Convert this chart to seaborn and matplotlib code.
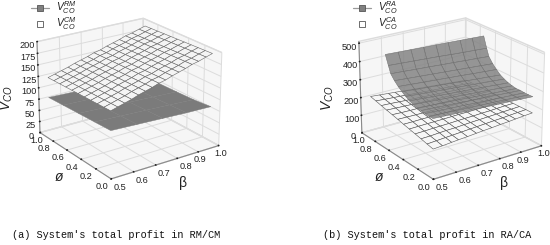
import matplotlib
matplotlib.use('Agg')
import matplotlib.pyplot as plt
from matplotlib.lines import Line2D
import numpy as np
import seaborn as sns

sns.set_theme(style='white')
plt.rcParams['font.family'] = ['Liberation Sans', 'DejaVu Sans']
plt.rcParams['mathtext.fontset'] = 'custom'
plt.rcParams['mathtext.it'] = 'Liberation Sans:italic'
plt.rcParams['mathtext.rm'] = 'Liberation Sans'

beta_ticks = [0.5, 0.6, 0.7, 0.8, 0.9, 1.0]
phi_ticks = [0.0, 0.2, 0.4, 0.6, 0.8, 1.0]

# panel a
a_beta = [0.5, 0.53, 0.56, 0.59, 0.62, 0.65, 0.68, 0.71, 0.74, 0.77, 0.8, 0.83, 0.86, 0.89, 0.925, 0.955]
a_phi = [0.0, 0.085, 0.17, 0.255, 0.34, 0.425, 0.51, 0.595, 0.68, 0.765, 0.85]
a_cm = [
    [140, 144, 148, 152, 157, 161, 165, 170, 173, 178, 182, 186, 191, 194, 199, 203],
    [139.5, 143.5, 147.5, 151.5, 156.5, 160.5, 164.5, 169.5, 172.5, 177.5, 181.5, 185.5, 190.5, 193.5, 198.5, 202.5],
    [139, 143, 147, 151, 156, 160, 164, 169, 172, 177, 181, 185, 190, 193, 198, 202],
    [138.5, 142.5, 146.5, 150.5, 155.5, 159.5, 163.5, 168.5, 171.5, 176.5, 180.5, 184.5, 189.5, 192.5, 197.5, 201.5],
    [138, 142, 146, 150, 155, 159, 163, 168, 171, 176, 180, 184, 189, 192, 197, 201],
    [137.5, 141.5, 145.5, 149.5, 154.5, 158.5, 162.5, 167.5, 170.5, 175.5, 179.5, 183.5, 188.5, 191.5, 196.5, 200.5],
    [137, 141, 145, 149, 154, 158, 162, 167, 170, 175, 179, 183, 188, 191, 196, 200],
    [136.5, 140.5, 144.5, 148.5, 153.5, 157.5, 161.5, 166.5, 169.5, 174.5, 178.5, 182.5, 187.5, 190.5, 195.5, 199.5],
    [136, 140, 144, 148, 153, 157, 161, 166, 169, 174, 178, 182, 187, 190, 195, 199],
    [135.5, 139.5, 143.5, 147.5, 152.5, 156.5, 160.5, 165.5, 168.5, 173.5, 177.5, 181.5, 186.5, 189.5, 194.5, 198.5],
    [135, 139, 143, 147, 152, 156, 160, 165, 168, 173, 177, 181, 186, 189, 194, 198],
]
a_rm_beta = [0.5, 0.615, 0.73, 0.84, 0.955]
a_rm_phi = [0.0, 0.21, 0.425, 0.64, 0.85]
a_rm = [
    [100, 97.5, 95, 92.5, 91],
    [98, 95.5, 93, 90.5, 87.5],
    [96, 93.5, 91, 88.5, 86],
    [94, 92, 89, 87, 85],
    [92, 90, 87, 85, 83],
]

# panel b
b_beta = [0.5, 0.54, 0.58, 0.61, 0.65, 0.69, 0.72, 0.76, 0.8, 0.84, 0.87, 0.91, 0.95]
b_phi = [0.0, 0.077, 0.155, 0.232, 0.309, 0.386, 0.464, 0.541, 0.618, 0.695, 0.773, 0.85]
b_ca = [
    [160, 163, 167, 170, 173, 177, 180, 183, 187, 190, 193, 197, 200],
    [167, 170, 173, 175, 178, 181, 183, 186, 189, 191, 194, 197, 200],
    [175, 176, 179, 181, 182, 185, 187, 189, 191, 193, 195, 197, 199],
    [182, 183, 185, 186, 187, 189, 190, 191, 193, 194, 196, 198, 199],
    [189, 190, 191, 191, 192, 193, 194, 194, 195, 196, 197, 198, 198],
    [196, 196, 197, 197, 197, 197, 197, 197, 197, 197, 198, 198, 198],
    [204, 203, 202, 202, 201, 201, 201, 200, 200, 199, 198, 198, 197],
    [211, 209, 208, 208, 206, 205, 204, 203, 202, 200, 199, 198, 197],
    [218, 216, 214, 213, 211, 209, 208, 206, 204, 202, 200, 198, 196],
    [225, 223, 220, 218, 216, 213, 211, 208, 206, 203, 201, 199, 196],
    [233, 229, 226, 224, 220, 217, 215, 211, 208, 205, 202, 199, 195],
    [240, 236, 232, 229, 225, 221, 218, 214, 210, 206, 203, 199, 195],
]
b_ra_beta = [0.5, 0.556, 0.612, 0.669, 0.725, 0.781, 0.837, 0.894, 0.95]
b_ra_phi = [0.0, 0.05, 0.1, 0.15, 0.2, 0.25, 0.3, 0.35, 0.4, 0.45, 0.5, 0.55, 0.58, 0.62]
b_ra = [
    [318, 314, 310, 307, 303, 299, 296, 292, 288],
    [318, 314, 310, 306, 302, 299, 295, 291, 287],
    [320, 316, 312, 308, 303, 299, 295, 291, 287],
    [324, 320, 315, 311, 306, 302, 298, 293, 289],
    [326, 321, 316, 312, 307, 302, 297, 293, 288],
    [332, 327, 322, 317, 312, 307, 302, 297, 292],
    [340, 335, 329, 324, 319, 314, 309, 303, 298],
    [352, 346, 341, 335, 330, 325, 319, 314, 308],
    [366, 360, 354, 349, 343, 337, 331, 326, 320],
    [382, 377, 371, 366, 361, 356, 350, 345, 340],
    [402, 397, 392, 387, 382, 377, 372, 367, 362],
    [428, 424, 419, 415, 410, 406, 401, 397, 392],
    [465, 461, 457, 453, 449, 444, 440, 436, 432],
    [515, 512, 509, 506, 504, 501, 498, 495, 492],
]

x_tick_align = ['left', 'left', 'left', 'left', 'center', 'center']
y_tick_align = ['right', 'right', 'right', 'right', 'right', 'center']

GRID = '#dcdcdc'
PANE = (0.965, 0.965, 0.965, 1.0)
TXT = '#222222'


def surf(ax, betas, phis, vals, z, face, edge, lw=0.4, alpha=1.0):
    bb, pp = np.meshgrid(betas, phis)
    return ax.plot_surface(bb, pp, np.array(vals, dtype=float), rstride=1, cstride=1,
                           color=face, edgecolor=edge, linewidth=lw, shade=False,
                           alpha=alpha, zorder=z)


def setup(rect, zticks, zmax):
    ax = fig.add_axes(rect, projection='3d', computed_zorder=False)
    ax.set_proj_type('persp', focal_length=1.0)
    ax.view_init(elev=22, azim=-125)
    ax.set_box_aspect((1, 1, 0.76), zoom=1.0)
    ax.set_xlim(0.5, 1.0)
    ax.set_ylim(0.0, 1.0)
    ax.set_zlim(0, zmax)
    ax.set_xticks(beta_ticks)
    ax.set_yticks(phi_ticks)
    ax.set_zticks(zticks)
    ax.set_xticklabels([f'{v:.1f}' for v in beta_ticks])
    ax.set_yticklabels([f'{v:.1f}' for v in phi_ticks])
    ax.set_zticklabels([str(v) for v in zticks])
    for t, ha in zip(ax.get_xticklabels(), x_tick_align):
        t.set_ha(ha)
    for t, ha in zip(ax.get_yticklabels(), y_tick_align):
        t.set_ha(ha)
    ax.tick_params(labelsize=6.6, colors=TXT)
    ax.tick_params(axis='x', pad=-6)
    ax.tick_params(axis='y', pad=-6)
    ax.tick_params(axis='z', pad=-4)
    for axis in (ax.xaxis, ax.yaxis, ax.zaxis):
        axis.set_pane_color(PANE)
        axis.pane.set_edgecolor(GRID)
        axis._axinfo['grid'].update(color=GRID, linewidth=0.7)
        axis._axinfo['tick'].update(inward_factor=0.0, outward_factor=0.04)
        axis.line.set_color('#8a8a8a')
        axis.line.set_linewidth(0.8)
    ax.patch.set_alpha(0)
    return ax


fig = plt.figure(figsize=(5.5, 2.45), dpi=100)

ax1 = setup([0.002, 0.191, 0.452, 0.83], [0, 25, 50, 75, 100, 125, 150, 175, 200], 200)
surf(ax1, a_rm_beta, a_rm_phi, a_rm, 1, '#7b7b7b', '#7b7b7b', lw=0.3)
surf(ax1, a_beta, a_phi, a_cm, 2, '#f4f4f4', '#666666')

ax2 = setup([0.5825, 0.189, 0.463, 0.834], [0, 100, 200, 300, 400, 500], 510)
surf(ax2, b_beta, b_phi, b_ca, 1, '#f7f7f7', '#555555')
surf(ax2, b_ra_beta, b_ra_phi, b_ra, 2, '#858585', '#6e6e6e', lw=0.35, alpha=0.86)


def key(x, y, label, with_line):
    # x, y in pixels of the 550x245 picture
    fx, fy = x / 550, 1 - y / 245
    if with_line:
        fig.add_artist(Line2D([(x - 9) / 550, (x + 9) / 550], [fy, fy], transform=fig.transFigure,
                              color='#9a9a9a', lw=0.9))
    fig.add_artist(Line2D([fx], [fy], transform=fig.transFigure, marker='s', ms=4.2,
                          mfc='#808080' if with_line else '#ffffff', mec='#555555', mew=0.6, ls='none'))
    fig.text((x + 16) / 550, fy, label, fontsize=7.5, color=TXT, va='center', ha='left')


key(40, 8, r'$V_{CO}^{RM}$', True)
key(40, 24, r'$V_{CO}^{CM}$', False)
key(362, 8, r'$V_{CO}^{RA}$', True)
key(362, 24, r'$V_{CO}^{CA}$', False)

for x, cap in [(12, "(a) System's total profit in RM/CM"), (323, "(b) System's total profit in RA/CA")]:
    fig.text(x / 550, 1 - 235 / 245, cap, family='Liberation Mono', fontsize=7.4,
             color='#111111', va='center', ha='left')

for vx, px, bx in [(7, 59, 183), (328, 379, 504)]:
    fig.text(vx / 550, 1 - 98 / 245, r'$V_{CO}$', rotation=90, fontsize=10, color=TXT, ha='center', va='center')
    fig.text(px / 550, 1 - 177 / 245, 'ø', fontsize=10, style='italic', color=TXT, ha='center', va='center')
    fig.text(bx / 550, 1 - 183 / 245, 'β', fontsize=10, color=TXT, ha='center', va='center')

fig.savefig('out.png', dpi=100)
